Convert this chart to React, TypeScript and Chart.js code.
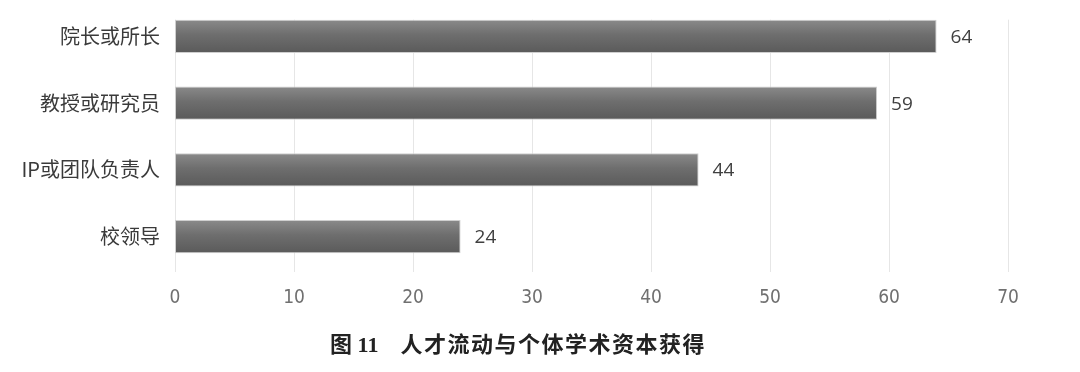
import React, { useEffect, useRef } from "react";
import { Chart, registerables } from "chart.js";

Chart.register(...registerables);

const categories = ["院长或所长", "教授或研究员", "IP或团队负责人", "校领导"];
const counts = [64, 59, 44, 24];
const xTicks = [0, 10, 20, 30, 40, 50, 60, 70];
const figureTitle = "人才流动与个体学术资本获得";

const BAR_SHARE = 0.5;

// Vertical grid lines start at the top edge of the first bar
const gridPlugin = {
  id: "barGrid",
  beforeDatasetsDraw(chart: any) {
    const { ctx, chartArea, scales } = chart;
    const meta = chart.getDatasetMeta(0);
    const first = meta.data[0];
    if (!first) return;
    const top = first.y - first.height / 2;
    ctx.save();
    ctx.strokeStyle = "#e6e6e6";
    ctx.lineWidth = 1;
    xTicks.forEach((t) => {
      const x = Math.round(scales.x.getPixelForValue(t)) + 0.5;
      ctx.beginPath();
      ctx.moveTo(x, top);
      ctx.lineTo(x, chartArea.bottom + 2);
      ctx.stroke();
    });
    ctx.restore();
  },
};

// Value labels at the end of each bar
const valueLabelPlugin = {
  id: "valueLabels",
  afterDatasetsDraw(chart: any) {
    const { ctx } = chart;
    const meta = chart.getDatasetMeta(0);
    ctx.save();
    ctx.font = '19px "Open Sans", "Liberation Sans", sans-serif';
    ctx.fillStyle = "#404040";
    ctx.textAlign = "left";
    ctx.textBaseline = "middle";
    meta.data.forEach((bar: any, i: number) => {
      ctx.fillText(String(counts[i]), bar.x + 14, bar.y + 1);
    });
    ctx.restore();
  },
};

// Vertical shading inside each bar, lighter at the top edge
function barFill(context: any) {
  const chart = context.chart;
  const yScale = chart.scales && chart.scales.y;
  if (!chart.chartArea || !yScale || context.dataIndex === undefined) return "#6a6a6a";
  const center = yScale.getPixelForValue(context.dataIndex);
  const thickness = (yScale.height / categories.length) * BAR_SHARE;
  const top = center - thickness / 2;
  const g = chart.ctx.createLinearGradient(0, top, 0, top + thickness);
  g.addColorStop(0, "#8a8a8a");
  g.addColorStop(0.45, "#6e6e6e");
  g.addColorStop(1, "#5a5a5a");
  return g;
}

export default function App() {
  const canvasRef = useRef<HTMLCanvasElement>(null);

  useEffect(() => {
    const chart = new Chart(canvasRef.current!, {
      type: "bar",
      data: {
        labels: categories,
        datasets: [
          {
            data: counts,
            backgroundColor: barFill,
            borderColor: "#cfcfcf",
            borderWidth: 1,
            borderSkipped: false,
            categoryPercentage: 1,
            barPercentage: BAR_SHARE,
          },
        ],
      },
      options: {
        indexAxis: "y",
        responsive: false,
        animation: false,
        layout: { padding: { top: 3, right: 72, left: 0, bottom: 0 } },
        plugins: {
          legend: { display: false },
          tooltip: { enabled: false },
          title: { display: false },
        },
        scales: {
          x: {
            min: 0,
            max: 70,
            afterBuildTicks: (scale: any) => {
              scale.ticks = xTicks.map((v) => ({ value: v }));
            },
            afterFit: (scale: any) => {
              scale.height = 102;
            },
            grid: { display: false, drawTicks: false },
            border: { display: false },
            ticks: {
              padding: 17,
              color: "#707070",
              font: {
                family: '"DejaVu Sans Condensed", "Liberation Sans", sans-serif',
                size: 19,
              },
            },
          },
          y: {
            afterFit: (scale: any) => {
              scale.width = 175;
              scale.paddingTop = 0;
              scale.paddingBottom = 0;
            },
            grid: { display: false, drawTicks: false },
            border: { display: false },
            ticks: {
              padding: 15,
              color: "#3a3a3a",
              font: {
                family: '"Noto Sans CJK SC", sans-serif',
                size: 20,
              },
            },
          },
        },
      },
      plugins: [gridPlugin, valueLabelPlugin],
    } as any);
    return () => chart.destroy();
  }, []);

  return (
    <div
      style={{
        position: "absolute",
        left: 0,
        top: 0,
        width: 1080,
        height: 372,
        background: "#ffffff",
      }}
    >
      <canvas ref={canvasRef} width={1080} height={372} style={{ display: "block" }} />
      <div
        style={{
          position: "absolute",
          left: 0,
          top: 327,
          width: 1036,
          textAlign: "center",
          fontFamily: '"Liberation Serif", "Noto Sans CJK SC", serif',
          fontWeight: "bold",
          fontSize: 22,
          lineHeight: "30px",
          color: "#222222",
          whiteSpace: "pre",
        }}
      >
        <span>图 11</span>
        <span
          style={{
            fontFamily: '"Noto Sans CJK SC", sans-serif',
            marginLeft: 22,
            letterSpacing: 1.5,
          }}
        >
          {figureTitle}
        </span>
      </div>
    </div>
  );
}
